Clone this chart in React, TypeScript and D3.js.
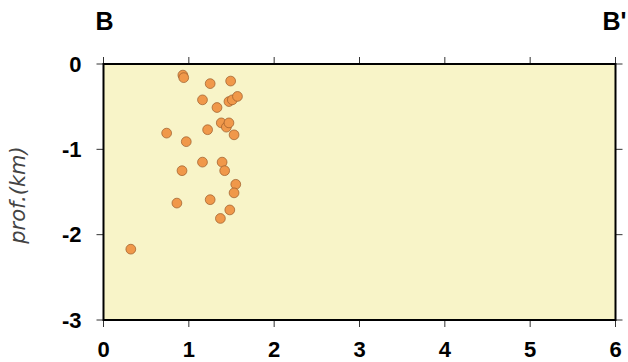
import React from "react";
import { scaleLinear, range } from "d3";

// Hypocentre cross-section B - B'

const distKm = [0.93, 0.94, 1.25, 1.49, 1.16, 1.33, 1.47, 1.51, 1.57, 0.74, 1.22, 1.38, 1.44, 1.47, 1.53, 0.97, 1.16, 1.39, 1.42, 0.92, 1.55, 1.53, 0.86, 1.25, 1.48, 1.37, 0.32];
const depthKm = [-0.13, -0.16, -0.23, -0.2, -0.42, -0.51, -0.44, -0.42, -0.38, -0.81, -0.77, -0.69, -0.74, -0.69, -0.83, -0.91, -1.15, -1.15, -1.25, -1.25, -1.41, -1.51, -1.63, -1.59, -1.71, -1.81, -2.17];
const xTicks = [0, 1, 2, 3, 4, 5, 6];
const yTicks = [0, -1, -2, -3];

const margin = { top: 64, right: 12.5, bottom: 42, left: 103.5 },
  W = 628, H = 362,
  width = W - margin.left - margin.right,
  height = H - margin.top - margin.bottom,
  tickLen = 7,
  labelFont = "'Liberation Sans', Arial, sans-serif";

export default function App() {
  const x = scaleLinear().domain([0, 6]).range([0, width]);
  const y = scaleLinear().domain([0, -3]).range([0, height]);
  const pts = range(distKm.length).map(i => ({ d: distKm[i], z: depthKm[i] }));

  return (
    <svg width={W} height={H} style={{ position: "absolute", left: 0, top: 0, background: "#fff" }}>
      <g transform={`translate(${margin.left},${margin.top})`}>
        <rect width={width} height={height} fill="#f8f4c8" />
        {/* ticks all round, outward */}
        {xTicks.map(t => (
          <g key={"x" + t} stroke="#333" strokeWidth={1}>
            <line x1={x(t)} x2={x(t)} y1={0} y2={-tickLen} />
            <line x1={x(t)} x2={x(t)} y1={height} y2={height + tickLen} />
          </g>
        ))}
        {yTicks.map(t => (
          <g key={"y" + t} stroke="#333" strokeWidth={1}>
            <line x1={0} x2={-tickLen} y1={y(t)} y2={y(t)} />
            <line x1={width} x2={width + tickLen} y1={y(t)} y2={y(t)} />
          </g>
        ))}
        {pts.map((p, i) => (
          <circle key={i} cx={x(p.d)} cy={y(p.z)} r={4.9} fill="#f0984a" stroke="#9a5a2a" strokeWidth={0.7} />
        ))}
        <rect width={width} height={height} fill="none" stroke="#000" strokeWidth={2} />
        {xTicks.map(t => (
          <text key={"xl" + t} x={x(t)} y={height + 37} textAnchor="middle"
            fontFamily={labelFont} fontWeight="bold" fontSize={22} fill="#000">{t}</text>
        ))}
        {yTicks.map(t => (
          <text key={"yl" + t} x={-22} y={y(t)} dy="0.35em" textAnchor="end"
            fontFamily={labelFont} fontWeight="bold" fontSize={22} fill="#000">{t === 0 ? "0" : "-" + Math.abs(t)}</text>
        ))}
        <text x={-8} y={-34} fontFamily={labelFont} fontWeight="bold" fontSize={25} fill="#000">B</text>
        <text x={width - 13} y={-34} fontFamily={labelFont} fontWeight="bold" fontSize={25} fill="#000">B'</text>
        <text transform={`translate(${-79},${height / 2 + 3}) rotate(-90)`} textAnchor="middle"
          fontFamily="'DejaVu Sans', sans-serif" fontStyle="italic" fontSize={21} fill="#444">prof.(km)</text>
      </g>
    </svg>
  );
}
